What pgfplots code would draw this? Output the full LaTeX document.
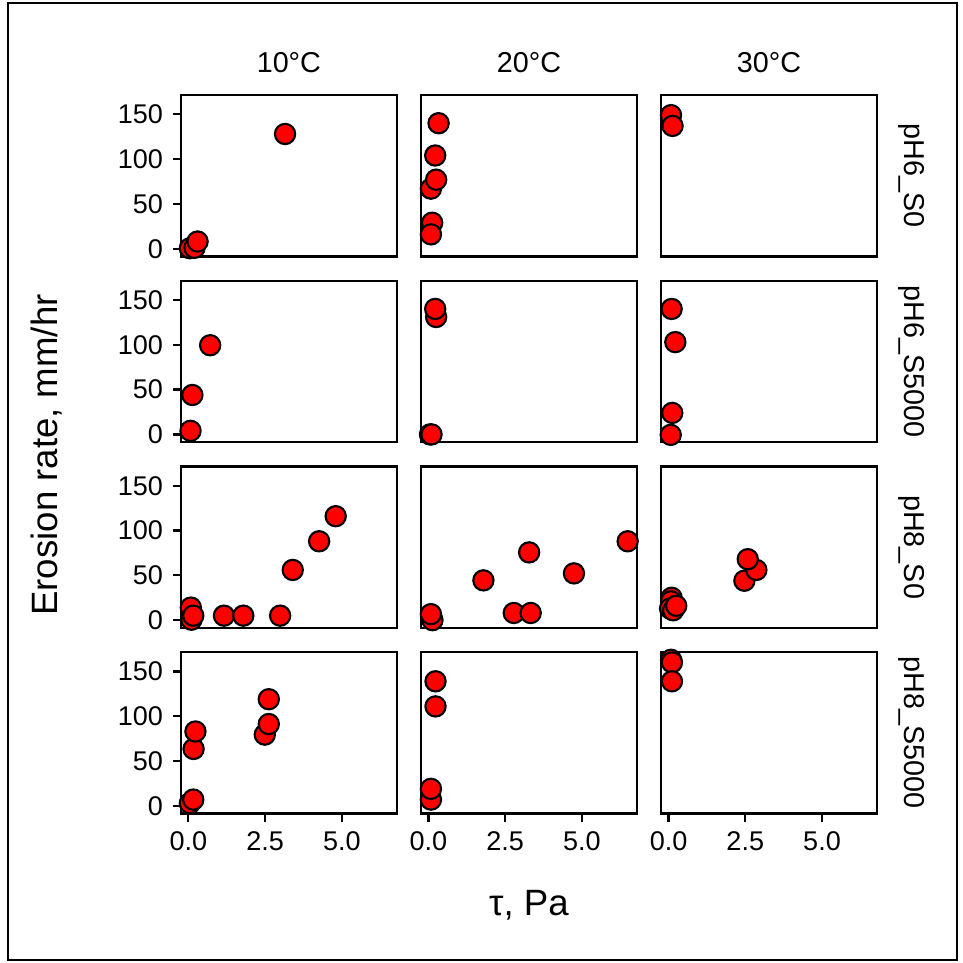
\documentclass[border=0pt]{standalone}
\usepackage{fontspec}
\setmainfont{Liberation Sans}
\usepackage{pgfplots}
\pgfplotsset{compat=1.18}
\usepgfplotslibrary{groupplots}
\usetikzlibrary{calc}
\newcommand{\px}{0.355pt}

\pgfplotsset{
  panel/.style={
    scale only axis, width=76.6pt, height=57.3pt,
    xmin=-0.24, xmax=6.79, ymin=-8.6, ymax=171.5,
    axis line style={line width=0.8pt},
    tick style={line width=0.8pt, black},
    tick align=outside, major tick length=2.9pt,
    xtick pos=bottom, ytick pos=left,
    xtick=\empty, ytick=\empty,
    clip mode=individual,
    /pgf/number format/assume math mode=true,
    tick label style={font=\fontsize{9.6}{11}\selectfont},
  },
  leftcol/.style={ytick={0,50,100,150}},
  bottomrow/.style={xtick={0,2.5,5}, xticklabels={0.0,2.5,5.0}},
  pt/.style={only marks, mark=*, mark size=3.6pt,
    mark options={fill=red, draw=black, line width=0.75pt}},
}

\begin{document}
\begin{tikzpicture}
\begin{groupplot}[group style={group size=3 by 4, horizontal sep=8.63pt, vertical sep=8.63pt}, panel]
% pH6_S0
\nextgroupplot[leftcol]
\addplot[pt] coordinates {(0.05,0.5) (0.2,1) (0.3,8) (3.15,128)};
\nextgroupplot
\addplot[pt] coordinates {(0.33,140) (0.22,104) (0.08,67) (0.25,77) (0.12,29) (0.08,16)};
\nextgroupplot
\addplot[pt] coordinates {(0.08,149) (0.13,137)};
% pH6_S5000
\nextgroupplot[leftcol]
\addplot[pt] coordinates {(0.71,99.5) (0.13,44) (0.07,4)};
\nextgroupplot
\addplot[pt] coordinates {(0.05,0) (0.1,0) (0.25,131) (0.22,140)};
\nextgroupplot
\addplot[pt] coordinates {(0.1,140) (0.22,103) (0.12,24) (0.07,-0.5)};
% pH8_S0
\nextgroupplot[leftcol]
\addplot[pt] coordinates {(0.1,0.5) (0.08,14) (0.16,5) (1.16,5) (1.79,5) (2.99,5) (3.4,56) (4.26,88) (4.8,116)};
\nextgroupplot
\addplot[pt] coordinates {(0.13,0) (0.08,6.7) (1.79,44.4) (2.78,8) (3.33,8) (3.28,75.6) (4.74,52.2) (6.49,88)};
\nextgroupplot
\addplot[pt] coordinates {(0.1,25) (0.08,21) (0.05,13) (0.15,11) (0.25,16) (2.47,44) (2.86,56) (2.58,68)};
% pH8_S5000
\nextgroupplot[leftcol,bottomrow]
\addplot[pt] coordinates {(0.05,3) (0.16,7) (0.17,63.5) (0.23,83) (2.49,79.5) (2.62,91.3) (2.62,119)};
\nextgroupplot[bottomrow]
\addplot[pt] coordinates {(0.08,7) (0.08,19) (0.23,111) (0.23,139)};
\nextgroupplot[bottomrow]
\addplot[pt] coordinates {(0.08,163) (0.11,160) (0.11,139)};
\end{groupplot}

% strip labels
\foreach \c/\t in {1/10°C, 2/20°C, 3/30°C}
  \node[font=\fontsize{10.2}{12}\selectfont] at ($(group c\c r1.north)+(0,32*\px)$) {\t};
\foreach \r/\t in {1/pH6\_S0, 2/pH6\_S5000, 3/pH8\_S0, 4/pH8\_S5000}
  \node[font=\fontsize{10.2}{12}\selectfont, rotate=-90] at ($(group c3r\r.east)+(35*\px,0)$) {\t};

% axis titles
\node[font=\fontsize{13}{15}\selectfont, rotate=90] at ($(group c1r1.north west)+(-134*\px,-360*\px)$) {Erosion rate, mm/hr};
\node[font=\fontsize{13}{15}\selectfont] at ($(group c2r4.south)+(0,-92*\px)$) {τ, Pa};

% outer frame and page box
\draw[line width=0.8pt] ($(group c1r1.north west)+(-173*\px,92*\px)$) rectangle ($(group c1r1.north west)+(776*\px,-865*\px)$);
\path ($(group c1r1.north west)+(-181*\px,95*\px)$) rectangle ($(group c1r1.north west)+(781*\px,-868*\px)$);
\end{tikzpicture}
\end{document}
